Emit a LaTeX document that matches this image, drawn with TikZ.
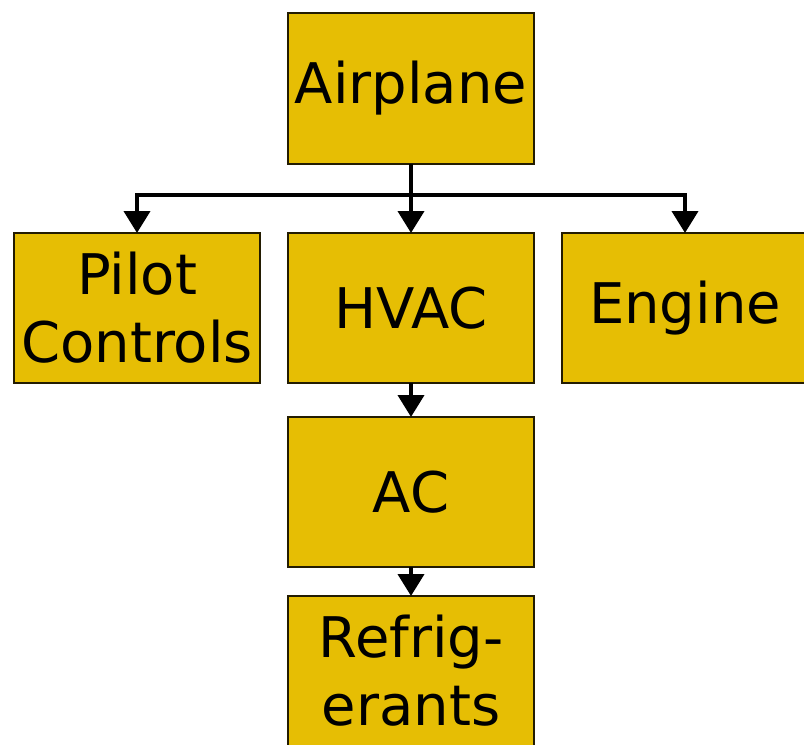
\documentclass[tikz,border=0pt]{standalone}
\usepackage{fontspec}
\setmainfont{DejaVu Sans}
\usetikzlibrary{arrows.meta,positioning}
\definecolor{gold}{RGB}{230,190,4}
\colorlet{golddark}{black!85!gold}

\begin{document}
\begin{tikzpicture}[
    part box/.style={align=center, font=\fontsize{56}{68}\selectfont, minimum width=246pt, minimum height=150pt, inner sep=0pt, draw=golddark, line width=1.5pt, fill=gold, outer sep=0pt},
    link/.style={draw=black, line width=4pt, -{Triangle[width=26pt,length=22pt]}}
  ]
  \useasboundingbox (0,0) rectangle (804pt,-745pt);
  \node [part box, minimum height=151pt] (airplane) at (411pt,-88.5pt) {Airplane};
  \begin{scope}[node distance=28pt]
  \node [part box, below=69pt of airplane] (hvac) {HVAC};
  \node [part box, left=of hvac] (pilot) {Pilot\\Controls};
  \node [part box, right=of hvac] (engine) {Engine};
  \node [part box, below=34pt of hvac] (ac) {AC};
  \node [part box, below=29pt of ac] (refrig) {Refrig-\\erants};
  \end{scope}
  \coordinate [below=31pt of airplane.south] (bar);

  \begin{scope}[every path/.style={link}]
  \path (airplane) -- (hvac);
  \path (bar) -| (pilot);
  \path (bar) -| (engine);
  \path (hvac) -- (ac);
  \path (ac) -- (refrig);
  \end{scope}
\end{tikzpicture}
\end{document}
